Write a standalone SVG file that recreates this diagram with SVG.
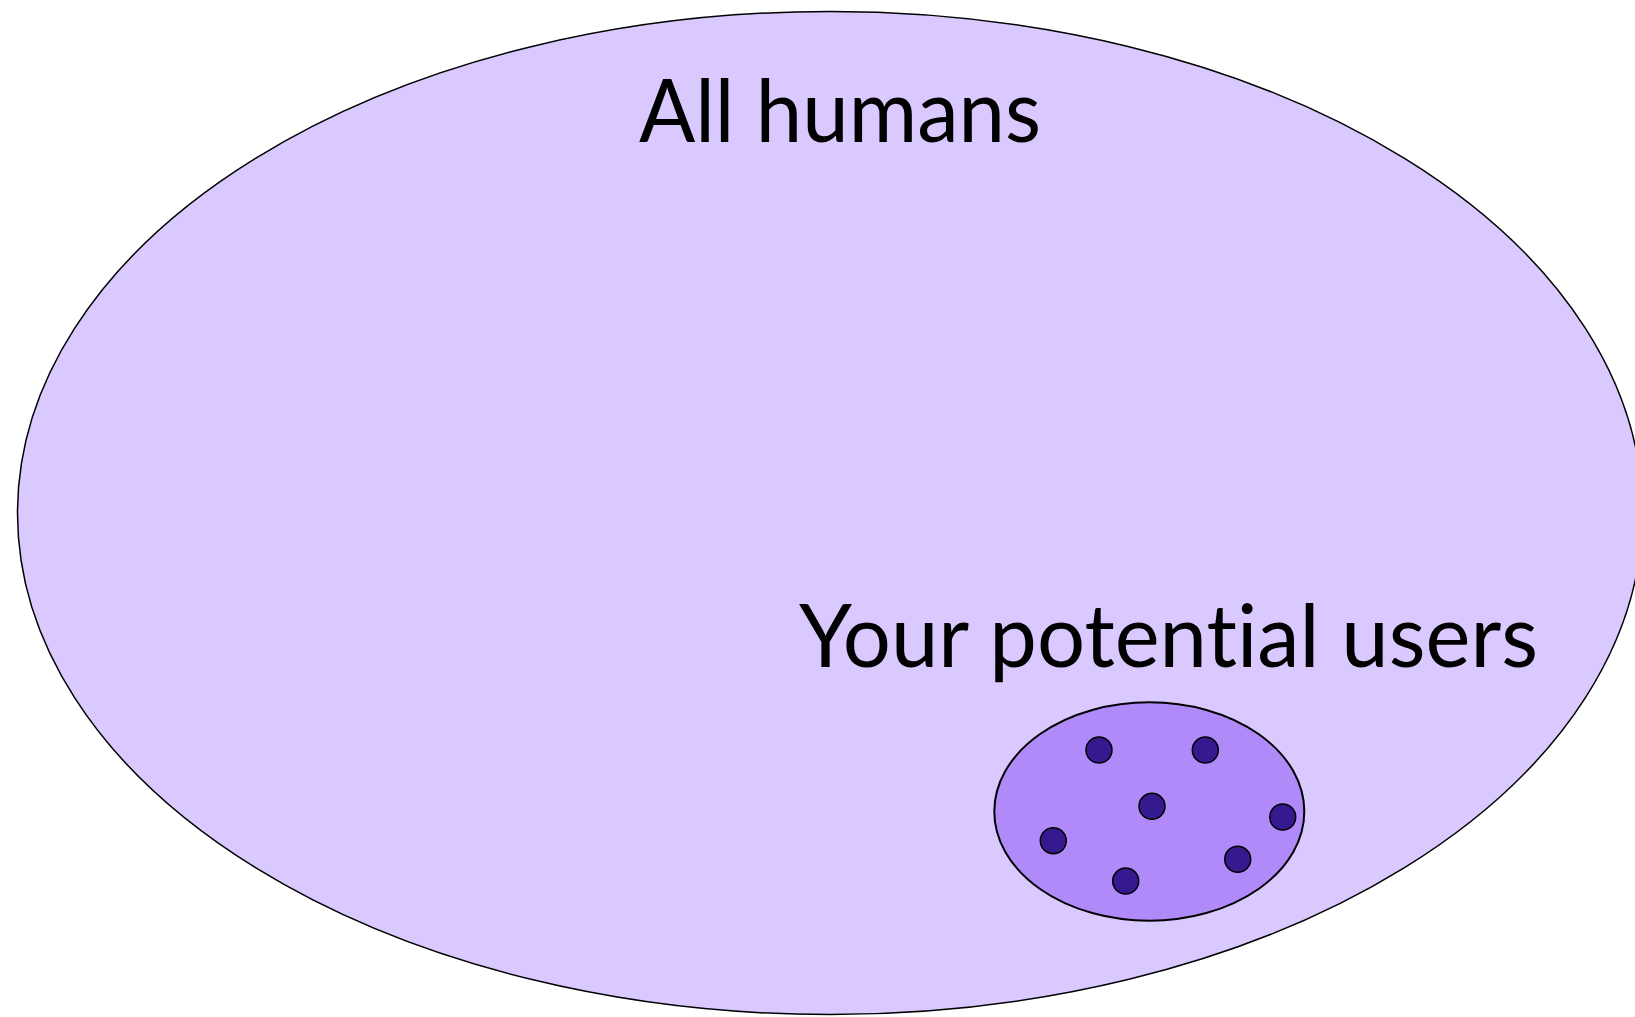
<svg xmlns="http://www.w3.org/2000/svg" width="1635" height="1017" viewBox="0 0 1635 1017">
<style>
.lbl{font-family:"Lato","Open Sans","Liberation Sans",sans-serif;font-size:88px;fill:#000;font-variant-ligatures:none}
.dot{fill:#341A8E;stroke:#000;stroke-width:1.5}
</style>
<rect width="1635" height="1017" fill="#fff"/>
<g id="all-humans">
<ellipse cx="830" cy="513" rx="812.5" ry="501.5" fill="#D9C9FE" stroke="#000" stroke-width="1.5"/>
<text class="lbl" x="639" y="142" textLength="402" lengthAdjust="spacingAndGlyphs">All humans</text>
</g>
<g id="potential-users">
<text class="lbl" x="799" y="667" textLength="739" lengthAdjust="spacingAndGlyphs">Your potential users</text>
<ellipse cx="1149.3" cy="811.5" rx="155" ry="109.2" fill="#B18AFA" stroke="#000" stroke-width="2"/>
<circle class="dot" cx="1099" cy="750" r="13"/>
<circle class="dot" cx="1205.3" cy="750" r="13"/>
<circle class="dot" cx="1152" cy="806.3" r="13"/>
<circle class="dot" cx="1282.7" cy="817" r="13"/>
<circle class="dot" cx="1053.3" cy="840.7" r="13"/>
<circle class="dot" cx="1125.7" cy="881" r="13"/>
<circle class="dot" cx="1237.7" cy="859.3" r="13"/>
</g>
<g id="connectors"/>
</svg>
